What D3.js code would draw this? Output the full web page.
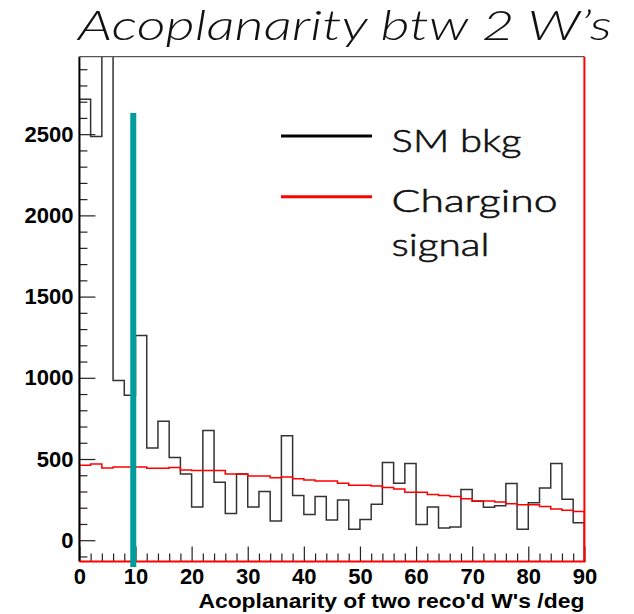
<!DOCTYPE html>
<html>
<head>
<meta charset="utf-8">
<script src="https://cdn.jsdelivr.net/npm/d3@7"></script>
<style>
  html, body { margin: 0; padding: 0; background: #fff; }
  svg { display: block; }
</style>
</head>
<body>
<script>
// Lower edges of the 2-degree acoplanarity bins
const binLows = [0, 2, 4, 6, 8, 10, 12, 14, 16, 18, 20, 22, 24, 26, 28, 30, 32, 34, 36, 38,
                 40, 42, 44, 46, 48, 50, 52, 54, 56, 58, 60, 62, 64, 66, 68, 70, 72, 74, 76, 78,
                 80, 82, 84, 86, 88];
const binWidth = 2;

// Standard Model background (events per bin)
const smBkg = [2715, 2485, 3400, 984, 892, 1261, 568, 732, 510, 408,
               205, 676, 357, 164, 408, 205, 300, 119, 644, 275,
               158, 269, 125, 248, 68, 127, 221, 478, 351, 472,
               97, 205, 76, 82, 312, 240, 203, 213, 349, 68,
               230, 322, 472, 252, 107];

// Chargino signal (events per bin)
const signal = [461, 470, 445, 451, 451, 451, 443, 443, 447, 433,
                429, 429, 429, 408, 408, 396, 396, 384, 390, 378,
                371, 365, 365, 351, 338, 338, 334, 324, 316, 295,
                295, 281, 275, 269, 256, 242, 242, 236, 224, 218,
                218, 207, 193, 184, 177];

// Axis ranges and ticks
const xDomain = [0, 90];
const yDomain = [-131, 2977];
const xMajorTicks = [0, 10, 20, 30, 40, 50, 60, 70, 80, 90];
const yMajorTicks = [0, 500, 1000, 1500, 2000, 2500];

// Selection cut marker: position (deg) and vertical extent (events)
const cutX = 9.6;
const cutRange = [-165, 2630];

// Legend entries
const legendItems = [
  { lines: ["SM bkg"], color: "#000" },
  { lines: ["Chargino", "signal"], color: "#f00" }
];

const W = 634, H = 614;
const frame = { left: 79.4, right: 584.4, top: 56.7, bottom: 561.5 };
const labelFont = "'Liberation Sans', Arial, sans-serif";

const svg = d3.select("body").append("svg")
  .attr("width", W).attr("height", H);

const x = d3.scaleLinear().domain(xDomain).range([frame.left, frame.right]);
const y = d3.scaleLinear().domain(yDomain).range([frame.bottom, frame.top]);

svg.append("defs").append("clipPath").attr("id", "plotClip")
  .append("rect")
  .attr("x", frame.left).attr("y", frame.top)
  .attr("width", frame.right - frame.left)
  .attr("height", frame.bottom - frame.top);

// Step outline of a histogram, starting and ending on the frame floor
function stepPoints(values) {
  const pts = [[xDomain[0], yDomain[0]]];
  values.forEach((v, i) => {
    pts.push([binLows[i], v]);
    pts.push([binLows[i] + binWidth, v]);
  });
  pts.push([xDomain[1], yDomain[0]]);
  return pts;
}

const line = d3.line().x(d => x(d[0])).y(d => y(d[1]));

const plot = svg.append("g").attr("clip-path", "url(#plotClip)");

plot.append("path")
  .attr("d", line(stepPoints(smBkg)))
  .attr("fill", "none")
  .attr("stroke", "#333")
  .attr("stroke-width", 1.5);

plot.append("path")
  .attr("d", line(stepPoints(signal)))
  .attr("fill", "none")
  .attr("stroke", "#f00")
  .attr("stroke-width", 1.5);

function styleLabels(g) {
  g.selectAll("text")
    .attr("fill", "#000")
    .style("font-family", labelFont)
    .style("font-weight", "bold")
    .style("font-size", "22px");
}

// Y axis: major ticks with labels, minor ticks every 100
const yMinor = d3.range(-100, 2977, 100).filter(v => v % 500 !== 0);
svg.append("g")
  .attr("transform", `translate(${frame.left},0)`)
  .call(d3.axisLeft(y).tickValues(yMinor).tickSizeInner(-8).tickSizeOuter(0).tickFormat(""))
  .call(g => g.select(".domain").remove())
  .call(g => g.selectAll("line").attr("stroke", "#222").attr("stroke-width", 1.2));

svg.append("g")
  .attr("transform", `translate(${frame.left},0)`)
  .call(d3.axisLeft(y).tickValues(yMajorTicks).tickSizeInner(-16).tickSizeOuter(0)
    .tickPadding(6).tickFormat(d3.format("d")))
  .call(g => g.select(".domain").remove())
  .call(g => g.selectAll("line").attr("stroke", "#222").attr("stroke-width", 1.2))
  .call(styleLabels);

// X axis: major ticks every 10, minor every 2
const xMinor = d3.range(2, 90, 2).filter(v => v % 10 !== 0);
svg.append("g")
  .attr("transform", `translate(0,${frame.bottom})`)
  .call(d3.axisBottom(x).tickValues(xMinor).tickSizeInner(-8).tickSizeOuter(0).tickFormat(""))
  .call(g => g.select(".domain").remove())
  .call(g => g.selectAll("line").attr("stroke", "#222").attr("stroke-width", 1.2));

svg.append("g")
  .attr("transform", `translate(0,${frame.bottom})`)
  .call(d3.axisBottom(x).tickValues(xMajorTicks).tickSizeInner(-15).tickSizeOuter(0)
    .tickPadding(7).tickFormat(d3.format("d")))
  .call(g => g.select(".domain").remove())
  .call(g => g.selectAll("line").attr("stroke", "#222").attr("stroke-width", 1.2))
  .call(styleLabels);

// Frame: grey top, black left axis, red bottom and right edges
svg.append("line")
  .attr("x1", frame.left).attr("x2", frame.right)
  .attr("y1", frame.top).attr("y2", frame.top)
  .attr("stroke", "#555").attr("stroke-width", 1.2);
svg.append("line")
  .attr("x1", frame.left).attr("x2", frame.left)
  .attr("y1", frame.top).attr("y2", frame.bottom)
  .attr("stroke", "#000").attr("stroke-width", 2);
svg.append("line")
  .attr("x1", frame.left).attr("x2", frame.right + 1)
  .attr("y1", frame.bottom).attr("y2", frame.bottom)
  .attr("stroke", "#f00").attr("stroke-width", 2);
svg.append("line")
  .attr("x1", frame.right).attr("x2", frame.right)
  .attr("y1", frame.top).attr("y2", frame.bottom)
  .attr("stroke", "#f00").attr("stroke-width", 2);

// Cut marker
svg.append("line")
  .attr("x1", x(cutX)).attr("x2", x(cutX))
  .attr("y1", y(cutRange[1])).attr("y2", y(cutRange[0]))
  .attr("stroke", "#009b9b").attr("stroke-width", 6);

// Axis title
svg.append("text")
  .attr("x", frame.right).attr("y", 607.5)
  .attr("text-anchor", "end")
  .attr("textLength", 386)
  .attr("lengthAdjust", "spacingAndGlyphs")
  .style("font-family", labelFont)
  .style("font-weight", "bold")
  .style("font-size", "21px")
  .text("Acoplanarity of two reco'd W's /deg");

// Title
svg.append("text")
  .attr("x", 78).attr("y", 40)
  .attr("textLength", 534)
  .attr("lengthAdjust", "spacingAndGlyphs")
  .style("font-family", "Lato, 'Open Sans', sans-serif")
  .style("font-style", "italic")
  .style("font-weight", 300)
  .style("font-size", "42px")
  .style("fill", "#111")
  .text("Acoplanarity btw 2 W\u2019s");

// Legend
const legend = svg.append("g");
const legendWidths = { "SM bkg": 130, "Chargino": 166, "signal": 98 };
legendItems.forEach((item, i) => {
  const lineY = i === 0 ? 136 : 196.7;
  legend.append("line")
    .attr("x1", 281).attr("x2", 372)
    .attr("y1", lineY).attr("y2", lineY)
    .attr("stroke", item.color).attr("stroke-width", 3);
  item.lines.forEach((t, j) => {
    legend.append("text")
      .attr("x", 391.5)
      .attr("y", lineY + 15.5 + j * 43.5)
      .attr("textLength", legendWidths[t])
      .attr("lengthAdjust", "spacingAndGlyphs")
      .style("font-family", "Lato, 'Open Sans', sans-serif")
      .style("font-weight", 300)
      .style("font-size", "32px")
      .style("fill", "#111")
      .style("stroke", "#111")
      .style("stroke-width", 0.6)
      .text(t);
  });
});
</script>
</body>
</html>
